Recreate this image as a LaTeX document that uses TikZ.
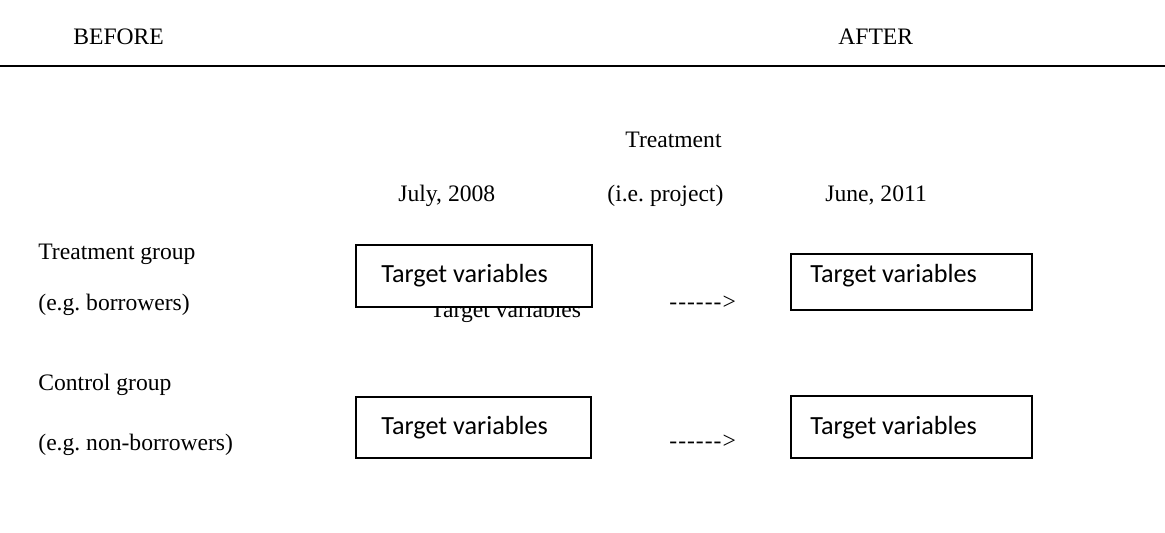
\documentclass[tikz,border=0pt]{standalone}
\usepackage{fontspec}
\setmainfont{Liberation Serif}
\newfontfamily\calfont{Carlito}
\usepackage{tikz}
\frenchspacing
% plain hyphens, kept apart so they do not join into dashes
\newcommand{\hyrun}{-\kern0.5pt-\kern0.5pt-\kern0.5pt-\kern0.5pt-\kern0.5pt-\kern0.5pt>}

\tikzset{
  lbl/.style={anchor=base west,inner sep=0pt,font=\fontsize{11.8}{14}\selectfont},
  boxlbl/.style={anchor=base west,inner sep=0pt,font=\calfont\fontsize{13.1}{15}\selectfont},
  varbox/.style={draw=black,line width=1pt,fill=white}
}

\begin{document}
\begin{tikzpicture}[x=0.5pt,y=-0.5pt]
  \useasboundingbox (0,0) rectangle (1165,533);
  % heading row
  \node[lbl] (before) at (73,45) {BEFORE};
  \node[lbl] (after) at (838,45) {AFTER};
  \draw[line width=0.6pt] (0,66) -- (1165,66);
  % time points
  \node[lbl] (treat) at (625,148) {Treatment};
  \node[lbl] (july) at (398,202) {July, 2008};
  \node[lbl] (proj) at (607,202) {(i.e. project)};
  \node[lbl] (june) at (825,202) {June, 2011};
  % groups
  \node[lbl] (tgroup) at (38,260) {Treatment group};
  \node[lbl] (tborr) at (38,311) {(e.g. borrowers)};
  \node[lbl] (cgroup) at (38,391) {Control group};
  \node[lbl] (cborr) at (38,450) {(e.g. non-borrowers)};
  \node[lbl] (tarrow) at (669,310) {\hyrun};
  \node[lbl] (carrow) at (669,448) {\hyrun};
  % boxes (the first one covers an older label)
  \node[lbl] (oldvar) at (430,318) {Target variables};
  \fill[varbox] (356,245) rectangle (592,307);
  \node[boxlbl] (tvar1) at (381,283) {Target variables};
  \fill[varbox] (791,254) rectangle (1032,310);
  \node[boxlbl] (tvar2) at (810,283) {Target variables};
  \fill[varbox] (356,397) rectangle (591,458);
  \node[boxlbl] (cvar1) at (381,435) {Target variables};
  \fill[varbox] (791,396) rectangle (1032,458);
  \node[boxlbl] (cvar2) at (810,434) {Target variables};
\end{tikzpicture}
\end{document}
